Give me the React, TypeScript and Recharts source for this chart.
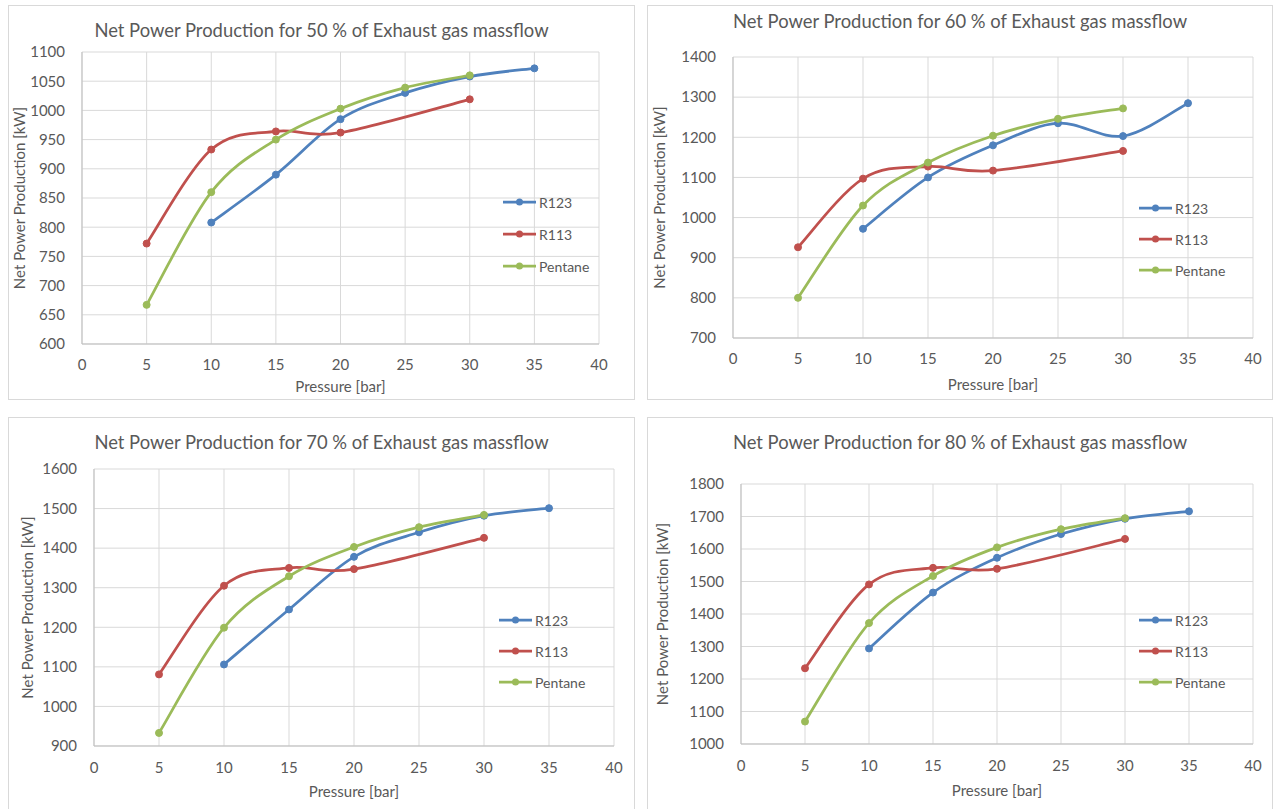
import React from "react";
import { CartesianGrid, Legend, Line, LineChart, XAxis, YAxis } from "recharts";

// pressure levels [bar] on the x axis
const pressureTicks = [0, 5, 10, 15, 20, 25, 30, 35, 40];
const r123Pressure = [10, 15, 20, 25, 30, 35];
const r113Pressure = [5, 10, 15, 20, 30];
const pentanePressure = [5, 10, 15, 20, 25, 30];

// net power [kW], 50 % massflow
const r123At50 = [808, 890, 985, 1030, 1058, 1072];
const r113At50 = [772, 933, 964, 962, 1019];
const pentaneAt50 = [667, 860, 950, 1003, 1039, 1060];
const ticksAt50 = [600, 650, 700, 750, 800, 850, 900, 950, 1000, 1050, 1100];

// 60 %
const r123At60 = [972, 1100, 1180, 1235, 1203, 1285];
const r113At60 = [926, 1097, 1127, 1117, 1166];
const pentaneAt60 = [800, 1030, 1137, 1204, 1246, 1272];
const ticksAt60 = [700, 800, 900, 1000, 1100, 1200, 1300, 1400];

// 70 %
const r123At70 = [1106, 1245, 1378, 1440, 1482, 1501];
const r113At70 = [1081, 1305, 1350, 1347, 1426];
const pentaneAt70 = [933, 1199, 1329, 1403, 1453, 1484];
const ticksAt70 = [900, 1000, 1100, 1200, 1300, 1400, 1500, 1600];

// 80 %
const r123At80 = [1294, 1466, 1573, 1646, 1693, 1716];
const r113At80 = [1233, 1491, 1542, 1539, 1631];
const pentaneAt80 = [1069, 1372, 1517, 1605, 1661, 1695];
const ticksAt80 = [1000, 1100, 1200, 1300, 1400, 1500, 1600, 1700, 1800];

const seriesNames = ["R123", "R113", "Pentane"];

const BLUE = "#4F81BD";
const RED = "#C0504D";
const GREEN = "#9BBB59";
const TEXT = "#595959";
const GRID = "#D9D9D9";
const FONT = "Lato, 'Open Sans', sans-serif";

const toPoints = (xs: number[], ys: number[]) => xs.map((pressure, i) => ({ pressure, power: ys[i] }));

// Excel-like smoothed line (Catmull-Rom through the points)
function excelSmooth(context: any) {
  let xs: number[] = [];
  let ys: number[] = [];
  return {
    areaStart() {},
    areaEnd() {},
    lineStart() {
      xs = [];
      ys = [];
    },
    point(x: number, y: number) {
      xs.push(+x);
      ys.push(+y);
    },
    lineEnd() {
      const n = xs.length;
      if (!n) return;
      context.moveTo(xs[0], ys[0]);
      for (let i = 0; i < n - 1; i++) {
        const a = Math.max(i - 1, 0);
        const d = Math.min(i + 2, n - 1);
        context.bezierCurveTo(
          xs[i] + (xs[i + 1] - xs[a]) / 6,
          ys[i] + (ys[i + 1] - ys[a]) / 6,
          xs[i + 1] - (xs[d] - xs[i]) / 6,
          ys[i + 1] - (ys[d] - ys[i]) / 6,
          xs[i + 1],
          ys[i + 1]
        );
      }
    },
  };
}

type Series = { name: string; color: string; data: { pressure: number; power: number }[] };

type PanelProps = {
  box: { x: number; y: number; w: number; h: number };
  plot: { l: number; t: number; r: number; b: number };
  title: string;
  titleY: number;
  yTicks: number[];
  series: Series[];
  yLabelX: number;
  xTickY: number;
  xTitleY: number;
  legend: { x: number; y: number; rowH: number };
};

function LegendBox({ payload, rowH }: any) {
  const items = [...(payload || [])].sort(
    (a: any, b: any) => seriesNames.indexOf(a.value) - seriesNames.indexOf(b.value)
  );
  return (
    <div style={{ fontFamily: FONT, fontSize: 14, color: TEXT }}>
      {items.map((item: any) => (
        <div key={item.value} style={{ display: "flex", alignItems: "center", height: rowH }}>
          <svg width={36} height={10} style={{ flex: "none" }}>
            <line x1={0} y1={5} x2={33} y2={5} stroke={item.color} strokeWidth={2.75} />
            <circle cx={16.5} cy={5} r={3.5} fill={item.color} />
          </svg>
          <span>{item.value}</span>
        </div>
      ))}
    </div>
  );
}

function Panel(p: PanelProps) {
  const ox = p.box.x + 1;
  const oy = p.box.y + 1;
  const w = p.box.w - 2;
  const h = p.box.h - 2;
  const xAxisH = 45;
  const margin = {
    top: p.plot.t - oy,
    right: ox + w - p.plot.r,
    bottom: oy + h - p.plot.b - xAxisH,
    left: 0,
  };
  const tickStyle = { fill: TEXT, fontSize: 15, fontFamily: FONT };
  const labelStyle = { fill: TEXT, fontSize: 15, fontFamily: FONT };
  return (
    <div
      style={{
        position: "absolute",
        left: p.box.x,
        top: p.box.y,
        width: p.box.w,
        height: p.box.h,
        border: `1px solid ${GRID}`,
        boxSizing: "border-box",
        background: "#fff",
      }}
    >
      <div
        style={{
          position: "absolute",
          left: 0,
          right: 0,
          top: p.titleY - oy - 11,
          lineHeight: "22px",
          textAlign: "center",
          fontFamily: FONT,
          fontSize: 18.4,
          color: TEXT,
          zIndex: 2,
        }}
      >
        {p.title}
      </div>
      <LineChart width={w} height={h} margin={margin}>
        <CartesianGrid stroke={GRID} />
        <XAxis
          type="number"
          dataKey="pressure"
          domain={[0, 40]}
          ticks={pressureTicks}
          interval={0}
          height={xAxisH}
          tickLine={false}
          tickSize={0}
          tickMargin={p.xTickY - p.plot.b - 5.3}
          axisLine={{ stroke: "#BFBFBF" }}
          tick={tickStyle}
          label={{
            value: "Pressure [bar]",
            position: "insideTop",
            offset: p.xTitleY - p.plot.b - 5.3,
            style: labelStyle,
          }}
        />
        <YAxis
          type="number"
          domain={[p.yTicks[0], p.yTicks[p.yTicks.length - 1]]}
          ticks={p.yTicks}
          interval={0}
          width={p.plot.l - ox}
          tickLine={false}
          tickSize={0}
          tickMargin={17}
          axisLine={{ stroke: "#BFBFBF" }}
          tick={tickStyle}
          label={{
            value: "Net Power Production [kW]",
            angle: -90,
            position: "insideLeft",
            offset: p.yLabelX - ox,
            style: { ...labelStyle, textAnchor: "middle" },
          }}
        />
        <Legend
          layout="vertical"
          align="center"
          verticalAlign="middle"
          wrapperStyle={{ left: p.legend.x - ox, top: p.legend.y - oy - p.legend.rowH / 2, width: 110 }}
          content={(props: any) => <LegendBox {...props} rowH={p.legend.rowH} />}
        />
        {p.series.map((s) => (
          <Line
            key={s.name}
            name={s.name}
            data={s.data}
            dataKey="power"
            type={excelSmooth as any}
            stroke={s.color}
            strokeWidth={2.75}
            dot={{ r: 3.5, fill: s.color, stroke: s.color, strokeWidth: 1 }}
            activeDot={false}
            isAnimationActive={false}
          />
        ))}
      </LineChart>
    </div>
  );
}

const makeSeries = (r123: number[], r113: number[], pentane: number[]): Series[] => [
  { name: "R123", color: BLUE, data: toPoints(r123Pressure, r123) },
  { name: "R113", color: RED, data: toPoints(r113Pressure, r113) },
  { name: "Pentane", color: GREEN, data: toPoints(pentanePressure, pentane) },
];

export default function App() {
  return (
    <div
      style={{
        position: "absolute",
        left: 0,
        top: 0,
        width: 1276,
        height: 809,
        overflow: "hidden",
        background: "#fff",
      }}
    >
      <Panel
        box={{ x: 8, y: 5, w: 627, h: 395 }}
        plot={{ l: 82, t: 52, r: 599, b: 344 }}
        title="Net Power Production for 50 % of Exhaust gas massflow"
        titleY={30}
        yTicks={ticksAt50}
        series={makeSeries(r123At50, r113At50, pentaneAt50)}
        yLabelX={20}
        xTickY={365}
        xTitleY={387}
        legend={{ x: 503, y: 202, rowH: 32 }}
      />
      <Panel
        box={{ x: 647, y: 5, w: 626, h: 395 }}
        plot={{ l: 733, t: 57, r: 1253, b: 338 }}
        title="Net Power Production for 60 % of Exhaust gas massflow"
        titleY={21}
        yTicks={ticksAt60}
        series={makeSeries(r123At60, r113At60, pentaneAt60)}
        yLabelX={660}
        xTickY={359}
        xTitleY={385}
        legend={{ x: 1139, y: 208, rowH: 31 }}
      />
      <Panel
        box={{ x: 8, y: 417, w: 627, h: 400 }}
        plot={{ l: 94, t: 469, r: 614, b: 746 }}
        title="Net Power Production for 70 % of Exhaust gas massflow"
        titleY={442}
        yTicks={ticksAt70}
        series={makeSeries(r123At70, r113At70, pentaneAt70)}
        yLabelX={28}
        xTickY={768}
        xTitleY={792}
        legend={{ x: 499, y: 620, rowH: 31 }}
      />
      <Panel
        box={{ x: 647, y: 417, w: 626, h: 400 }}
        plot={{ l: 741, t: 484, r: 1253, b: 744 }}
        title="Net Power Production for 80 % of Exhaust gas massflow"
        titleY={442}
        yTicks={ticksAt80}
        series={makeSeries(r123At80, r113At80, pentaneAt80)}
        yLabelX={663}
        xTickY={766}
        xTitleY={791}
        legend={{ x: 1139, y: 620, rowH: 31 }}
      />
    </div>
  );
}
